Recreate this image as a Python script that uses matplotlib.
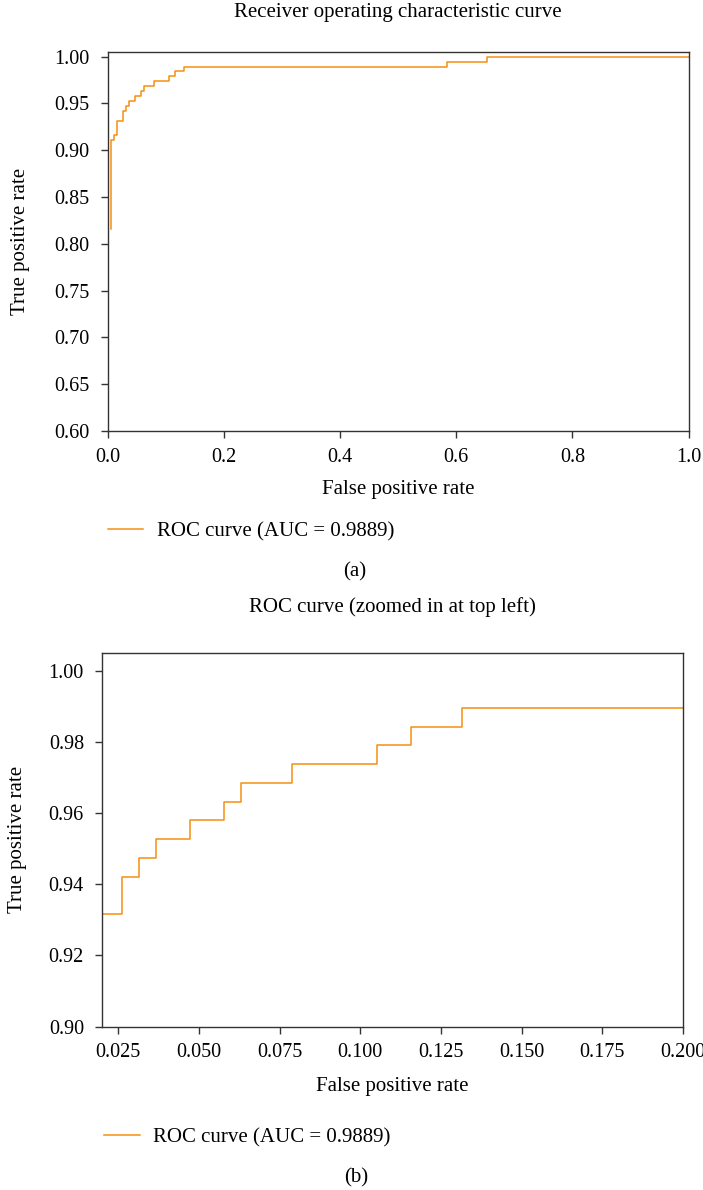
import numpy as np
import matplotlib
matplotlib.use("Agg")
import matplotlib.pyplot as plt

# ROC corner points (190 positives / 190 negatives)
n_neg = 190
n_pos = 190
fp_counts = [1, 1, 2, 2, 3, 3, 5, 5, 6, 6, 7, 7, 9, 9, 11, 11, 12, 12,
             15, 15, 20, 20, 22, 22, 25, 25, 111, 111, 124, 124, 190]
tp_counts = [155, 173, 173, 174, 174, 177, 177, 179, 179, 180, 180, 181,
             181, 182, 182, 183, 183, 184, 184, 185, 185, 186, 186, 187,
             187, 188, 188, 189, 189, 190, 190]
fpr = np.array(fp_counts) / n_neg
tpr = np.array(tp_counts) / n_pos
auc_label = "ROC curve (AUC = 0.9889)"

plt.rcParams['font.family'] = ['Liberation Serif', 'DejaVu Serif']
plt.rcParams['font.size'] = 15

W, H = 703, 1190
fig = plt.figure(figsize=(W / 100, H / 100), dpi=100)

def px_axes(left, top, right, bottom):
    return fig.add_axes([left / W, 1 - bottom / H, (right - left) / W, (bottom - top) / H])

ax1 = px_axes(107.7, 52, 688.5, 431)
ax2 = px_axes(102, 652.7, 683, 1026.7)

line_color = '#F7900F'

for ax in (ax1, ax2):
    ax.plot(fpr, tpr, color=line_color, lw=1.1, label=auc_label)
    for sp in ax.spines.values():
        sp.set_color('#333333')
        sp.set_linewidth(1.0)
    ax.tick_params(direction='out', length=5, width=1.0, color='#333333',
                   labelsize=14.5)
    ax.tick_params(axis='x', pad=7)
    ax.tick_params(axis='y', pad=8)

ax1.set_xlim(0, 1.0)
ax1.set_ylim(0.6, 1.005)
ax1.set_xticks([0.0, 0.2, 0.4, 0.6, 0.8, 1.0])
ax1.set_xticklabels(['0.0', '0.2', '0.4', '0.6', '0.8', '1.0'])
ax1.set_yticks(np.arange(0.60, 1.001, 0.05))
ax1.set_yticklabels(['%.2f' % v for v in np.arange(0.60, 1.001, 0.05)])

ax2.set_xlim(0.02, 0.2)
ax2.set_ylim(0.9, 1.005)
ax2.set_xticks([0.025, 0.05, 0.075, 0.1, 0.125, 0.15, 0.175, 0.2])
ax2.set_xticklabels(['0.025', '0.050', '0.075', '0.100', '0.125', '0.150', '0.175', '0.200'])
ax2.set_yticks([0.90, 0.92, 0.94, 0.96, 0.98, 1.00])
ax2.set_yticklabels(['0.90', '0.92', '0.94', '0.96', '0.98', '1.00'])

# titles
fig.text(398 / W, 1 - 13 / H, "Receiver operating characteristic curve",
         ha='center', va='center', fontsize=15)
fig.text(392.5 / W, 1 - 607 / H, "ROC curve (zoomed in at top left)",
         ha='center', va='center', fontsize=15)

# axis labels
for ax, ylab_x, xlab_y in ((ax1, 21, 490), (ax2, 18, 1087)):
    ax.set_xlabel("False positive rate", fontsize=15)
    ax.set_ylabel("True positive rate", fontsize=15)
    ax.xaxis.label.set_va('center')
    ax.yaxis.label.set_va('center')
    bb = ax.get_position()
    ax.xaxis.set_label_coords(0.5, (1 - xlab_y / H - bb.y0) / bb.height)
    ax.yaxis.set_label_coords((ylab_x / W - bb.x0) / bb.width, 0.5)

# legends below each panel
ax1.legend(loc='center left', bbox_to_anchor=(107.7 / W, 1 - 531.7 / H),
           bbox_transform=fig.transFigure, frameon=False, borderpad=0,
           borderaxespad=0, handlelength=1.7, handletextpad=0.65, fontsize=15)
ax2.legend(loc='center left', bbox_to_anchor=(104.3 / W, 1 - 1137.7 / H),
           bbox_transform=fig.transFigure, frameon=False, borderpad=0,
           borderaxespad=0, handlelength=1.7, handletextpad=0.65, fontsize=15)

# panel captions
fig.text(355 / W, 1 - 571.7 / H, "(a)", ha='center', va='center', fontsize=15)
fig.text(355.7 / W, 1 - 1178 / H, "(b)", ha='center', va='center', fontsize=15)

fig.savefig("out.png", dpi=100)
